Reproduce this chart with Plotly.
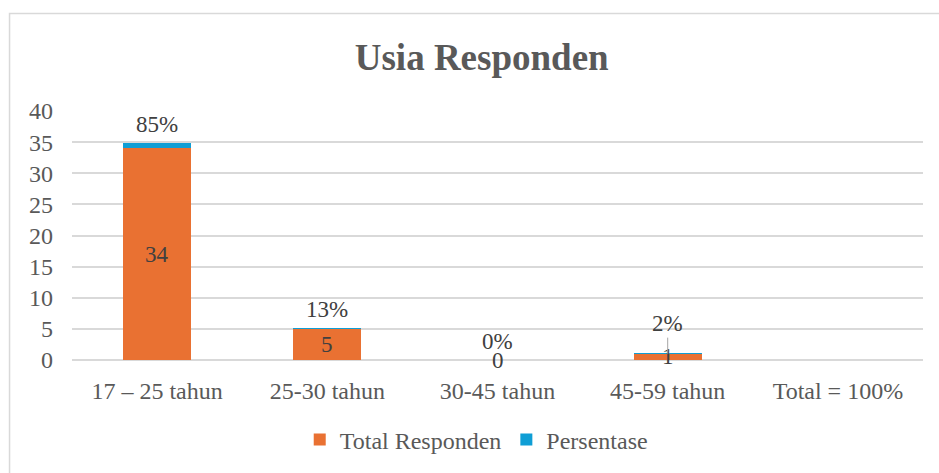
import plotly.graph_objects as go

categories = ["17 – 25 tahun", "25-30 tahun", "30-45 tahun", "45-59 tahun", "Total = 100%"]
total_responden = [34, 5, 0, 1, None]
persentase = [0.85, 0.13, 0.00, 0.02, None]
persentase_labels = ["85%", "13%", "0%", "2%", None]
y_ticks = [0, 5, 10, 15, 20, 25, 30, 35, 40]

ORANGE = "#E97132"
BLUE = "#0F9ED5"
TEXT = "#595959"
LABEL = "#404040"
GRID = "#D9D9D9"
FONT = "Liberation Serif"
FS = 24

fig = go.Figure()
fig.add_trace(go.Bar(x=categories, y=total_responden, name="Total Responden",
                     marker=dict(color=ORANGE, line=dict(width=0))))
fig.add_trace(go.Bar(x=categories, y=persentase, name="Persentase",
                     marker=dict(color=BLUE, line=dict(width=0))))

annotations = []
for c, t, p, lab in zip(categories, total_responden, persentase, persentase_labels):
    if t is None:
        continue
    annotations.append(dict(x=c, y=t / 2, text=str(t), showarrow=False,
                            font=dict(family=FONT, size=23, color=LABEL)))
    top = t + p
    if c == "45-59 tahun":
        annotations.append(dict(x=c, y=top, text=lab, showarrow=True, arrowhead=0,
                                arrowwidth=1, arrowcolor="#A6A6A6", ax=0, ay=-30,
                                standoff=0,
                                font=dict(family=FONT, size=23, color=LABEL)))
    else:
        annotations.append(dict(x=c, y=top, text=lab, showarrow=False, yshift=19,
                                font=dict(family=FONT, size=23, color=LABEL)))

fig.update_layout(
    width=939, height=473,
    barmode="stack", bargap=0.6,
    plot_bgcolor="white", paper_bgcolor="white",
    margin=dict(l=72, r=16, t=111, b=112),
    font=dict(family=FONT, size=FS, color=TEXT),
    title=dict(text="<b>Usia Responden</b>", x=0.513, xref="container", xanchor="center",
               y=0.879, yref="container", yanchor="middle",
               font=dict(family=FONT, size=37, color=TEXT)),
    legend=dict(orientation="h", x=0.475, xanchor="center", y=-0.316, yanchor="middle",
                font=dict(family=FONT, size=FS, color=TEXT), itemwidth=30,
                traceorder="normal"),
    annotations=annotations,
    shapes=[dict(type="rect", xref="paper", yref="paper",
                 x0=-0.0734, x1=1.05, y0=-0.6, y1=1.392,
                 line=dict(color=GRID, width=1.5), fillcolor="rgba(0,0,0,0)", layer="below")],
)
fig.update_xaxes(showgrid=False, showline=False, ticks="", ticklabelstandoff=14,
                 tickfont=dict(size=FS, color=TEXT))
fig.update_yaxes(range=[0, 40], tickvals=y_ticks, showgrid=True, gridcolor=GRID, gridwidth=1.5,
                 zeroline=True, zerolinecolor=GRID, zerolinewidth=1.5,
                 showline=False, ticks="", ticklabelstandoff=18,
                 tickfont=dict(size=FS, color=TEXT))

fig.write_html("out.html", config={"displayModeBar": False},
               post_script="document.body.style.margin='0';")
